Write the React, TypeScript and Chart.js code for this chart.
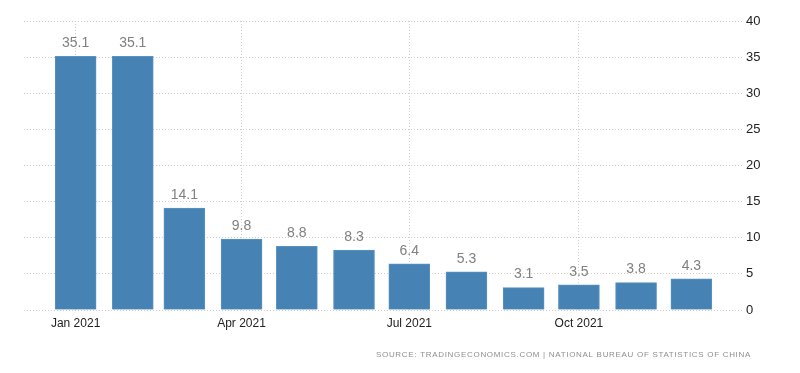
import React, { useEffect, useRef } from "react";
import { Chart, registerables } from "chart.js";

Chart.register(...registerables);

const months = ["Jan", "Feb", "Mar", "Apr", "May", "Jun", "Jul", "Aug", "Sep", "Oct", "Nov", "Dec"];
const dayOffsets = [0, 31, 59, 90, 120, 151, 181, 212, 243, 273, 304, 334];
const values = [35.1, 35.1, 14.1, 9.8, 8.8, 8.3, 6.4, 5.3, 3.1, 3.5, 3.8, 4.3];
const xTickDays = [0, 90, 181, 273];
const xTickLabels = ["Jan 2021", "Apr 2021", "Jul 2021", "Oct 2021"];
const sourceText = "SOURCE: TRADINGECONOMICS.COM | NATIONAL BUREAU OF STATISTICS OF CHINA";

const FONT = "'Liberation Sans', Arial, sans-serif";

const labelsPlugin = {
  id: "valueLabels",
  afterDatasetsDraw(chart: any) {
    const ctx = chart.ctx;
    const meta = chart.getDatasetMeta(0);
    ctx.save();
    ctx.font = `14px ${FONT}`;
    ctx.fillStyle = "#808080";
    ctx.textAlign = "center";
    ctx.textBaseline = "bottom";
    meta.data.forEach((el: any, i: number) => {
      ctx.fillText(values[i].toFixed(1), el.x, el.y - 6);
    });
    ctx.restore();
  },
};

const sourcePlugin = {
  id: "sourceText",
  afterDraw(chart: any) {
    const ctx = chart.ctx;
    ctx.save();
    ctx.font = `8px ${FONT}`;
    (ctx as any).letterSpacing = "0px";
    const w = ctx.measureText(sourceText).width;
    const sp = Math.max(0, (375 - w) / sourceText.length);
    (ctx as any).letterSpacing = `${sp.toFixed(2)}px`;
    ctx.fillStyle = "#8f8f8f";
    ctx.textAlign = "right";
    ctx.textBaseline = "middle";
    ctx.fillText(sourceText, 751, 355);
    ctx.restore();
  },
};

export default function App() {
  const ref = useRef<HTMLCanvasElement>(null);
  useEffect(() => {
    document.body.style.margin = "0";
    const chart = new Chart(ref.current!, {
      type: "bar",
      data: {
        datasets: [
          {
            label: months.join(","),
            data: dayOffsets.map((d, i) => ({ x: d, y: values[i] })),
            backgroundColor: "#4682B4",
            borderColor: "#5a93c2",
            borderWidth: 1,
            barThickness: 41,
          } as any,
        ],
      },
      options: {
        animation: false,
        responsive: false,
        layout: { padding: { left: 24, top: 21, right: 0, bottom: 0 } },
        plugins: { legend: { display: false }, tooltip: { enabled: false } },
        scales: {
          x: {
            type: "linear",
            min: -28,
            max: 362,
            offset: false,
            afterBuildTicks: (scale: any) => {
              scale.ticks = xTickDays.map((v) => ({ value: v }));
            },
            afterFit: (scale: any) => {
              scale.height = 63;
            },
            ticks: {
              autoSkip: false,
              maxRotation: 0,
              padding: 6,
              color: "#222",
              font: { family: FONT, size: 12 },
              callback: (v: any) => {
                const i = xTickDays.indexOf(Number(v));
                return i >= 0 ? xTickLabels[i] : "";
              },
            },
            grid: { color: "#cfcfcf", drawTicks: false, offset: false },
            border: { display: false, dash: [1, 2] },
          },
          y: {
            position: "right",
            min: 0,
            max: 40,
            afterFit: (scale: any) => {
              scale.width = 57;
            },
            ticks: {
              stepSize: 5,
              padding: 3,
              color: "#222",
              font: { family: FONT, size: 13 },
            },
            grid: { color: "#cfcfcf", drawTicks: false },
            border: { display: false, dash: [1, 2] },
          },
        },
      } as any,
      plugins: [labelsPlugin, sourcePlugin],
    });
    return () => chart.destroy();
  }, []);
  return <canvas ref={ref} width={800} height={373} style={{ display: "block" }} />;
}
